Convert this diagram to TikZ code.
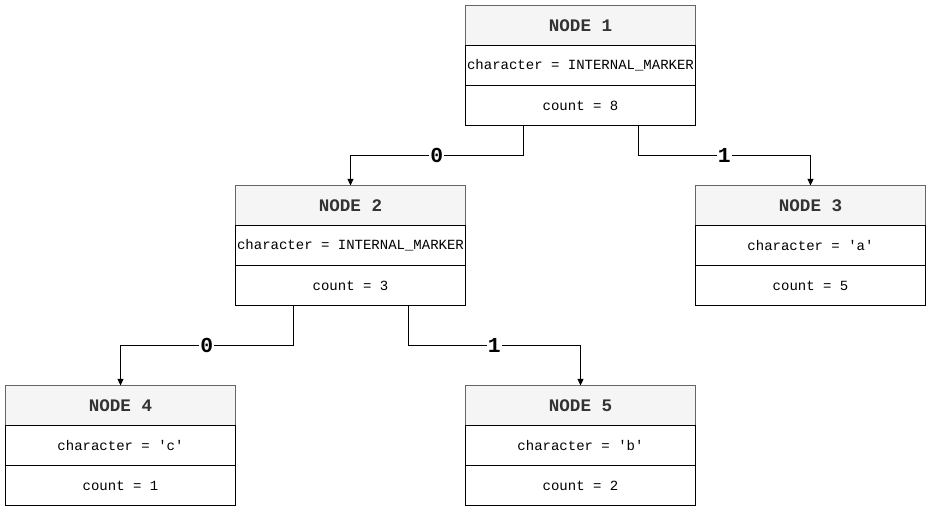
\documentclass[tikz,border=0pt]{standalone}
\usepackage{fontspec}
\setmonofont{Liberation Mono}
\usetikzlibrary{arrows.meta,calc}
\definecolor{hdrline}{HTML}{666666}
\definecolor{hdrfill}{HTML}{F5F5F5}
\definecolor{hdrtext}{HTML}{333333}
\tikzset{
  hdr/.style={draw=hdrline, fill=hdrfill, text=hdrtext, line width=0.75pt,
    minimum width=172.5pt, minimum height=30pt, inner sep=0pt, outer sep=0pt, anchor=north west,
    font=\ttfamily\bfseries\fontsize{13.2}{15}\selectfont},
  cell/.style={draw=black, fill=white, line width=0.75pt,
    minimum width=172.5pt, minimum height=30pt, inner sep=0pt, outer sep=0pt, anchor=north,
    font=\ttfamily\fontsize{10.5}{12}\selectfont},
  conn/.style={draw=black, line width=0.75pt, -{Triangle[length=5pt,width=4.5pt]}},
  lbl/.style={fill=white, inner sep=1pt, font=\ttfamily\bfseries\fontsize{16}{18}\selectfont}
}
\newcommand\treebox[6]{%
  \node[hdr] (#1h) at (#2,#3) {#4};
  \node[cell] (#1c) at (#1h.south) {#5};
  \node[cell] (#1n) at (#1c.south) {#6};
}
\begin{document}
\begin{tikzpicture}[x=0.75pt,y=-0.75pt]
\useasboundingbox (0,0) rectangle (932,511);
\treebox{a}{465.5}{5.5}{NODE 1}{character = INTERNAL\_MARKER}{count = 8}
\treebox{b}{235.5}{185.5}{NODE 2}{character = INTERNAL\_MARKER}{count = 3}
\treebox{c}{695.5}{185.5}{NODE 3}{character = 'a'}{count = 5}
\treebox{d}{5.5}{385.5}{NODE 4}{character = 'c'}{count = 1}
\treebox{e}{465.5}{385.5}{NODE 5}{character = 'b'}{count = 2}
\coordinate (ya) at (0,155.5);
\coordinate (yb) at (0,345.5);
\coordinate (a0) at ($(an.south west)!0.25!(an.south east)$);
\coordinate (a1) at ($(an.south west)!0.75!(an.south east)$);
\coordinate (b0) at ($(bn.south west)!0.25!(bn.south east)$);
\coordinate (b1) at ($(bn.south west)!0.75!(bn.south east)$);
\draw[conn] (a0) -- (a0 |- ya) -- node[lbl] {0} (bh.north |- ya) -- (bh.north);
\draw[conn] (a1) -- (a1 |- ya) -- node[lbl] {1} (ch.north |- ya) -- (ch.north);
\draw[conn] (b0) -- (b0 |- yb) -- node[lbl] {0} (dh.north |- yb) -- (dh.north);
\draw[conn] (b1) -- (b1 |- yb) -- node[lbl] {1} (eh.north |- yb) -- (eh.north);
\end{tikzpicture}
\end{document}
